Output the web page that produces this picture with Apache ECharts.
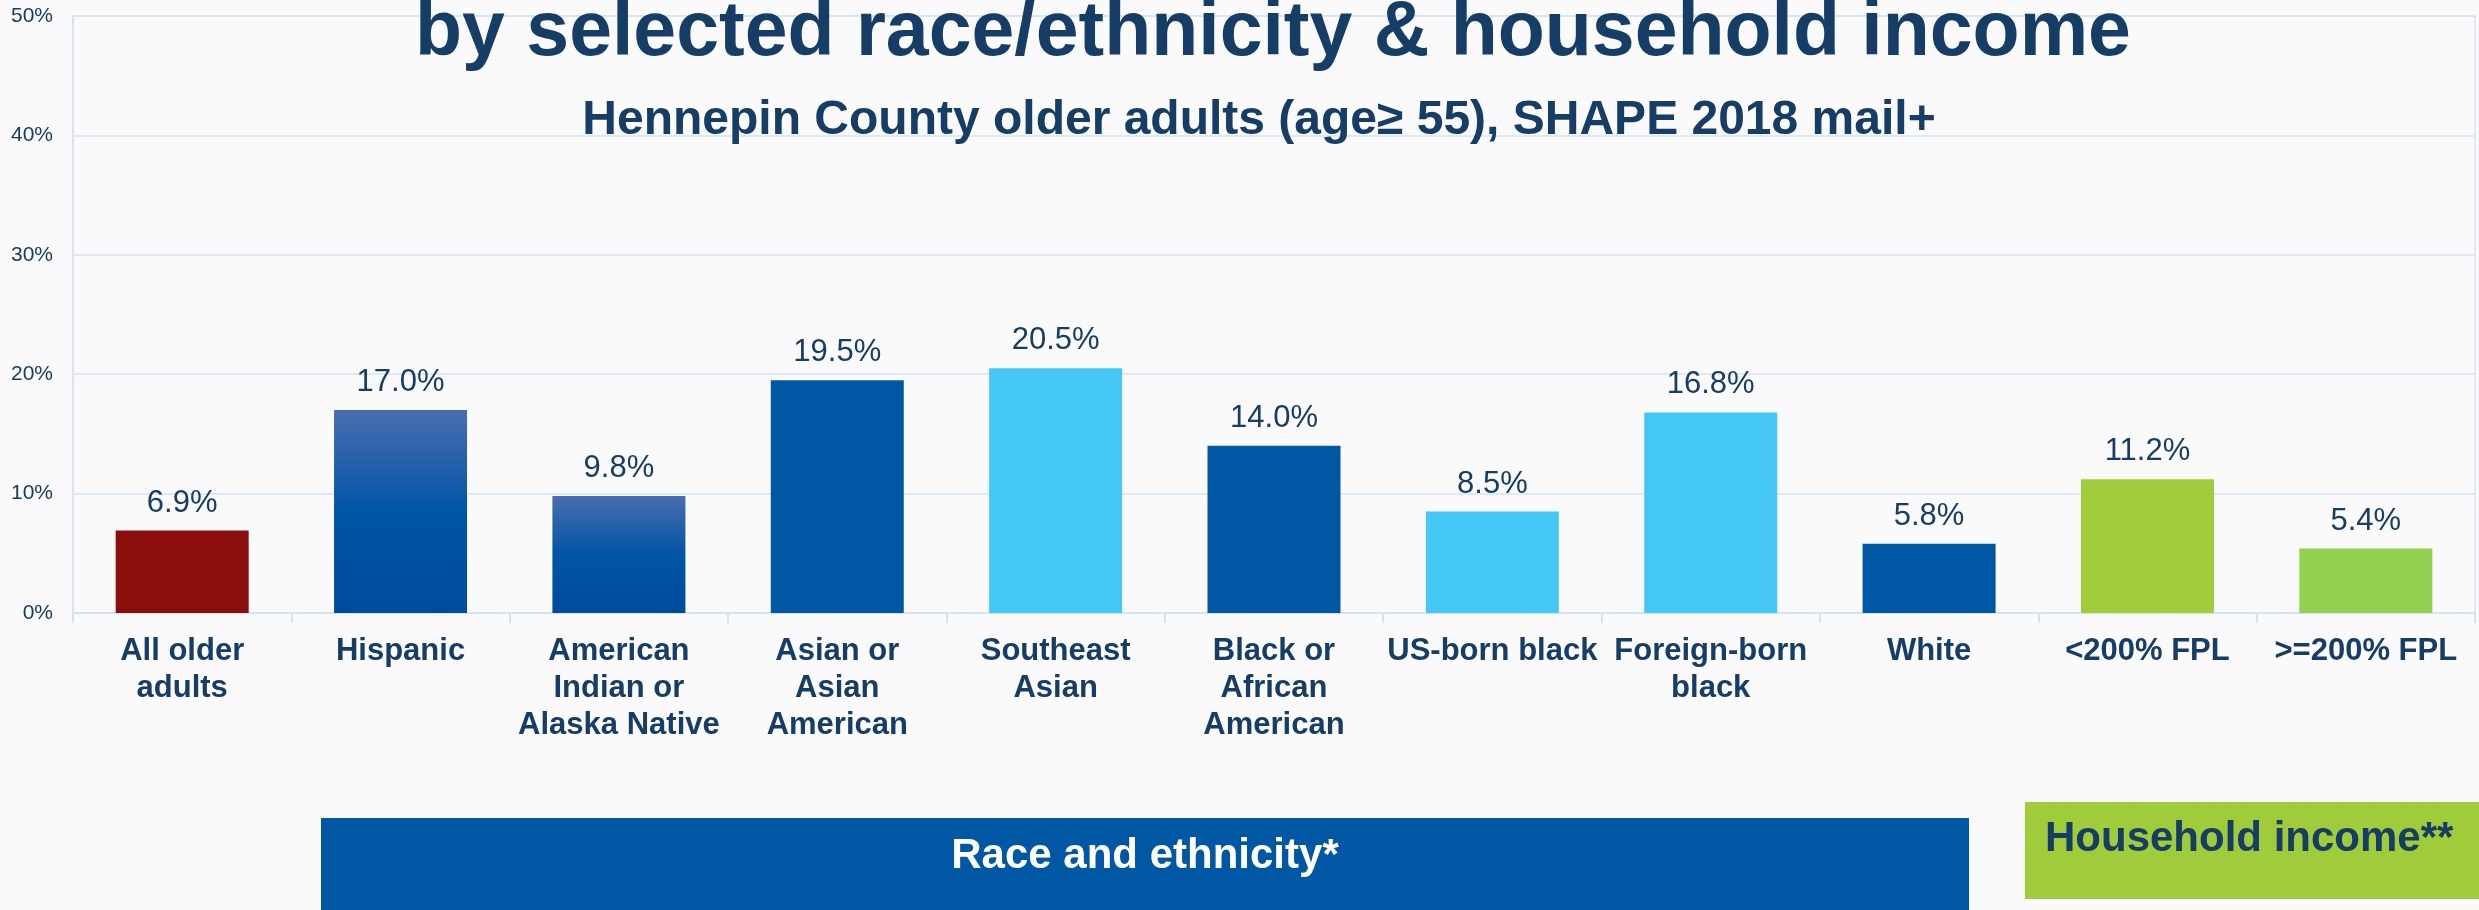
<!DOCTYPE html>
<html>
<head>
<meta charset="utf-8">
<script src="https://cdn.jsdelivr.net/npm/echarts@6/dist/echarts.min.js"></script>
<style>
  html, body { margin: 0; padding: 0; background: #fafafa; }
  #chart { width: 2479px; height: 910px; }
</style>
</head>
<body>
<div id="chart"></div>
<script>
// ---- data ----
const categories = [
  'All older\nadults',
  'Hispanic',
  'American\nIndian or\nAlaska Native',
  'Asian or\nAsian\nAmerican',
  'Southeast\nAsian',
  'Black or\nAfrican\nAmerican',
  'US-born black',
  'Foreign-born\nblack',
  'White',
  '<200% FPL',
  '>=200% FPL'
];
const values = [6.9, 17.0, 9.8, 19.5, 20.5, 14.0, 8.5, 16.8, 5.8, 11.2, 5.4];
const yTicks = [0, 10, 20, 30, 40, 50];
const titleText = 'by selected race/ethnicity & household income';
const subtitleText = 'Hennepin County older adults (age\u2265 55), SHAPE 2018 mail+';
const groupLabels = ['Race and ethnicity*', 'Household income**'];

// ---- styles ----
const NAVY = '#163d66';
const DARK = '#0057a3';
const LIGHT = '#45c8f5';
const RED = '#8b0e0c';
const GREEN1 = '#a0cb3a';
const GREEN2 = '#92d050';
const GRIDC = '#d3e4f5';
const grad = () => new echarts.graphic.LinearGradient(0, 0, 0, 1, [
  { offset: 0, color: '#4a6db0' },
  { offset: 0.5, color: '#0055a5' },
  { offset: 1, color: '#004c9c' }
]);
const barColors = [RED, grad(), grad(), DARK, LIGHT, DARK, LIGHT, LIGHT, DARK, GREEN1, GREEN2];

const chart = echarts.init(document.getElementById('chart'), null, { renderer: 'canvas' });
chart.setOption({
  backgroundColor: '#fafafa',
  animation: false,
  title: [
    {
      text: titleText,
      left: 1268, top: -10, textAlign: 'center',
      textStyle: { fontFamily: 'Liberation Sans, Arial, sans-serif', fontSize: 77, fontWeight: 'bold', color: NAVY }
    },
    {
      text: subtitleText,
      left: 1254, top: 92, textAlign: 'center',
      textStyle: { fontFamily: 'Liberation Sans, Arial, sans-serif', fontSize: 48, fontWeight: 'bold', color: NAVY }
    }
  ],
  grid: {
    left: 73, right: 4, top: 16, bottom: 297,
    show: true, borderColor: GRIDC, borderWidth: 1.5, backgroundColor: 'transparent'
  },
  xAxis: {
    type: 'category',
    data: categories,
    axisLine: { lineStyle: { color: GRIDC, width: 2 } },
    axisTick: { show: true, length: 10, lineStyle: { color: GRIDC, width: 2 } },
    axisLabel: {
      interval: 0, margin: 20,
      fontFamily: 'Liberation Sans, Arial, sans-serif', fontSize: 31, fontWeight: 'bold',
      color: NAVY, lineHeight: 37
    }
  },
  yAxis: {
    type: 'value',
    min: yTicks[0], max: yTicks[yTicks.length - 1], interval: yTicks[1] - yTicks[0],
    axisLine: { show: true, lineStyle: { color: GRIDC, width: 2 } },
    axisTick: { show: false },
    splitLine: { lineStyle: { color: GRIDC, width: 1.5 } },
    axisLabel: {
      formatter: '{value}%', margin: 20,
      fontFamily: 'Liberation Sans, Arial, sans-serif', fontSize: 21, color: NAVY
    }
  },
  series: [{
    type: 'bar',
    barWidth: 133,
    data: values.map((v, i) => ({ value: v, itemStyle: { color: barColors[i] } })),
    label: {
      show: true, position: 'top', distance: 12,
      formatter: p => p.value.toFixed(1) + '%',
      fontFamily: 'Liberation Sans, Arial, sans-serif', fontSize: 31, color: NAVY
    }
  }],
  graphic: [
    {
      type: 'rect', shape: { x: 321, y: 818, width: 1648, height: 100 },
      style: { fill: DARK }, silent: true
    },
    {
      type: 'text', x: 1145, y: 856,
      style: {
        text: groupLabels[0], fill: '#ffffff', textAlign: 'center', textVerticalAlign: 'middle',
        font: 'bold 42px "Liberation Sans", Arial, sans-serif'
      }
    },
    {
      type: 'rect', shape: { x: 2025, y: 802, width: 460, height: 97 },
      style: { fill: GREEN1 }, silent: true
    },
    {
      type: 'text', x: 2045, y: 839,
      style: {
        text: groupLabels[1], fill: NAVY, textAlign: 'left', textVerticalAlign: 'middle',
        font: 'bold 42px "Liberation Sans", Arial, sans-serif'
      }
    }
  ]
});
</script>
</body>
</html>
